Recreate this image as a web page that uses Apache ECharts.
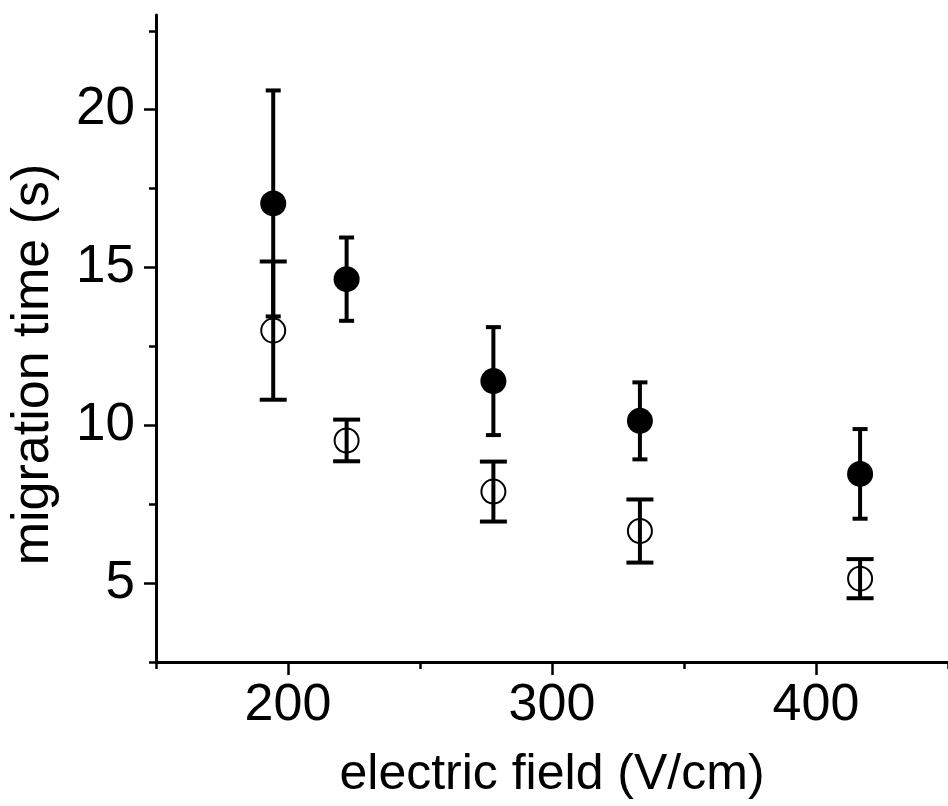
<!DOCTYPE html>
<html>
<head>
<meta charset="utf-8">
<script src="https://cdn.jsdelivr.net/npm/echarts@6/dist/echarts.min.js"></script>
<style>
html,body{margin:0;padding:0;background:#fff;}
#chart{width:948px;height:806px;}
</style>
</head>
<body>
<div id="chart"></div>
<script>
// electric field (V/cm)
var fieldValues = [194.4, 222.2, 277.8, 333.3, 416.7];
// filled circles: migration time (s) and error
var filledTime = [17.03, 14.63, 11.40, 10.14, 8.46];
var filledErr  = [3.58, 1.32, 1.71, 1.22, 1.42];
// open circles
var openTime = [13.00, 9.52, 7.90, 6.65, 5.14];
var openErr  = [2.19, 0.66, 0.95, 1.00, 0.62];
// ticks
var xMajorTicks = [200, 300, 400];
var xMinorTicks = [150, 250, 350, 450];
var yMajorTicks = [5, 10, 15, 20];
var yMinorTicks = [2.5, 7.5, 12.5, 17.5, 22.5];

var FONT = "'Liberation Sans', Arial, Helvetica, sans-serif";

function errData(xs, ys, es) {
  return xs.map(function (x, i) { return [x, ys[i] - es[i], ys[i] + es[i]]; });
}
function ptData(xs, ys) {
  return xs.map(function (x, i) { return [x, ys[i]]; });
}
function makeErrRender(capW) {
  return function (params, api) {
    var x = api.value(0);
    var hi = api.coord([x, api.value(2)]);
    var lo = api.coord([x, api.value(1)]);
    var st = { stroke: '#000', lineWidth: 4 };
    return {
      type: 'group',
      children: [
        { type: 'line', shape: { x1: hi[0], y1: hi[1], x2: lo[0], y2: lo[1] }, style: st },
        { type: 'line', shape: { x1: hi[0] - capW / 2, y1: hi[1], x2: hi[0] + capW / 2, y2: hi[1] }, style: st },
        { type: 'line', shape: { x1: lo[0] - capW / 2, y1: lo[1], x2: lo[0] + capW / 2, y2: lo[1] }, style: st }
      ]
    };
  };
}

var chart = echarts.init(document.getElementById('chart'), null, { renderer: 'canvas' });
var axisLineStyle = { color: '#000', width: 3 };
chart.setOption({
  animation: false,
  backgroundColor: '#fff',
  grid: { left: 156, right: -9, top: 15, bottom: 144, containLabel: false },
  xAxis: [{
    type: 'value', min: 150, max: 450, position: 'bottom',
    name: 'electric field (V/cm)', nameLocation: 'middle', nameGap: 88,
    nameTextStyle: { fontFamily: FONT, fontSize: 50, color: '#000' },
    axisLine: { show: true, onZero: false, lineStyle: axisLineStyle },
    axisTick: { show: true, customValues: xMajorTicks, length: 13, inside: false, lineStyle: { color: '#000', width: 2.5 } },
    axisLabel: { show: true, customValues: xMajorTicks, margin: 18, fontFamily: FONT, fontSize: 52, color: '#000' },
    splitLine: { show: false }
  }, {
    type: 'value', min: 150, max: 450, position: 'bottom', offset: 0,
    axisLine: { show: false },
    axisTick: { show: true, customValues: xMinorTicks, length: 7, lineStyle: { color: '#000', width: 2.5 } },
    axisLabel: { show: false },
    splitLine: { show: false }
  }],
  yAxis: [{
    type: 'value', min: 2.5, max: 23, position: 'left',
    name: 'migration time (s)', nameLocation: 'middle', nameGap: 96,
    nameTextStyle: { fontFamily: FONT, fontSize: 52, color: '#000', padding: [0, 52, 0, 0] },
    axisLine: { show: true, onZero: false, lineStyle: axisLineStyle },
    axisTick: { show: true, customValues: yMajorTicks, length: 12, lineStyle: { color: '#000', width: 2.5 } },
    axisLabel: { show: true, customValues: yMajorTicks, margin: 21, fontFamily: FONT, fontSize: 53, color: '#000', padding: [0, 0, 8, 0] },
    splitLine: { show: false }
  }, {
    type: 'value', min: 2.5, max: 23, position: 'left', offset: 0,
    axisLine: { show: false },
    axisTick: { show: true, customValues: yMinorTicks, length: 7, lineStyle: { color: '#000', width: 2.5 } },
    axisLabel: { show: false },
    splitLine: { show: false }
  }],
  series: [
    { type: 'custom', name: 'filled err', xAxisIndex: 0, yAxisIndex: 0, renderItem: makeErrRender(15),
      data: errData(fieldValues, filledTime, filledErr), encode: { x: 0, y: [1, 2] }, z: 2 },
    { type: 'custom', name: 'open err', xAxisIndex: 0, yAxisIndex: 0, renderItem: makeErrRender(27),
      data: errData(fieldValues, openTime, openErr), encode: { x: 0, y: [1, 2] }, z: 2 },
    { type: 'scatter', name: 'filled', xAxisIndex: 0, yAxisIndex: 0, symbol: 'circle', symbolSize: 26,
      itemStyle: { color: '#000', opacity: 1 }, data: ptData(fieldValues, filledTime), z: 3 },
    { type: 'scatter', name: 'open', xAxisIndex: 0, yAxisIndex: 0, symbol: 'circle', symbolSize: 24,
      itemStyle: { color: 'rgba(0,0,0,0)', borderColor: '#000', borderWidth: 2, opacity: 1 },
      data: ptData(fieldValues, openTime), z: 4 }
  ]
});
</script>
</body>
</html>
